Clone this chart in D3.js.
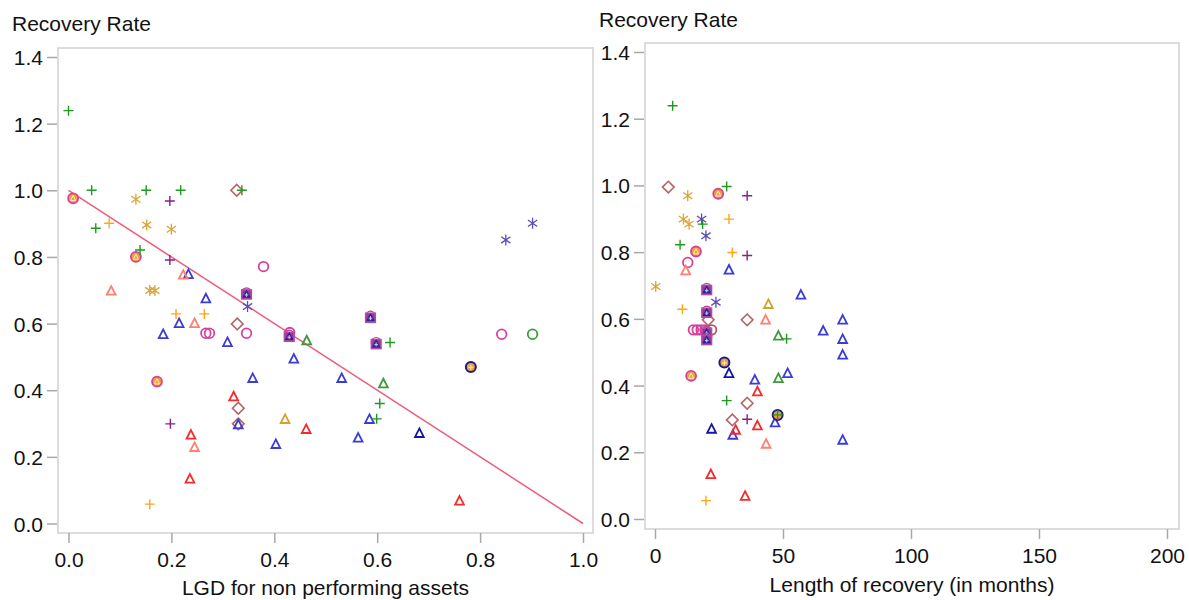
<!DOCTYPE html>
<html>
<head>
<meta charset="utf-8">
<script src="https://cdn.jsdelivr.net/npm/d3@7"></script>
<style>
  html, body { margin: 0; padding: 0; background: #ffffff; }
  svg { display: block; font-family: "Liberation Sans", Arial, sans-serif; }
</style>
</head>
<body>
<svg id="chart" width="1189" height="600"></svg>
<script>
// ---------------- DATA ----------------
const yTicks = [0, 0.2, 0.4, 0.6, 0.8, 1.0, 1.2, 1.4];
const lgdTicks = [0, 0.2, 0.4, 0.6, 0.8, 1.0];
const monthTicks = [0, 50, 100, 150, 200];
const yTitle = "Recovery Rate";
const leftXTitle = "LGD for non performing assets";
const rightXTitle = "Length of recovery (in months)";
const fitLine = [[0, 1.0], [1.0, 0.0]];   // fitted line: recovery = 1 - LGD

// [LGD, recovery rate]  and  [months, recovery rate]
const blueTriLGD = [[0.233,0.748],[0.267,0.675],[0.215,0.601],[0.184,0.568],[0.309,0.544],[0.438,0.494],[0.358,0.436],[0.531,0.436],[0.585,0.313],[0.563,0.257],[0.403,0.238],[0.330,0.297]];
const blueTriMonths = [[28.9,0.747],[39,0.417],[51.8,0.437],[57,0.672],[73.3,0.597],[65.7,0.564],[73.3,0.539],[73.3,0.492],[46.9,0.289],[30.4,0.252],[73.3,0.237]];
const darkBlueTriLGD = [[0.682,0.271]];
const darkBlueTriMonths = [[22.1,0.270],[28.9,0.437]];
const redTriLGD = [[0.321,0.381],[0.462,0.283],[0.238,0.266],[0.236,0.134],[0.760,0.068]];
const redTriMonths = [[40,0.382],[40,0.280],[31.5,0.267],[21.8,0.134],[35.2,0.069]];
const salmonTriLGD = [[0.083,0.698],[0.223,0.746],[0.245,0.601],[0.245,0.229]];
const salmonTriMonths = [[12,0.745],[43.2,0.597],[43.4,0.225]];
const greenTriLGD = [[0.463,0.549],[0.612,0.420]];
const greenTriMonths = [[48.2,0.549],[48.2,0.422]];
const goldTriLGD = [[0.421,0.313]];
const goldTriMonths = [[44.3,0.644]];
const greenPlusLGD = [[0.0,1.239],[0.045,1.0],[0.151,1.0],[0.218,1.0],[0.337,1.0],[0.053,0.886],[0.139,0.821],[0.625,0.543],[0.605,0.360],[0.599,0.314]];
const greenPlusMonths = [[6.9,1.239],[28,0.997],[18.6,0.884],[9.8,0.822],[51.4,0.540],[28,0.355],[47.9,0.312]];
const purplePlusLGD = [[0.197,0.968],[0.197,0.791],[0.198,0.299]];
const purplePlusMonths = [[36,0.969],[36,0.790],[36,0.299]];
const orangePlusLGD = [[0.079,0.901],[0.209,0.629],[0.264,0.629],[0.158,0.058]];
const orangePlusMonths = [[28.9,0.899],[30.2,0.799],[10.7,0.629],[19.9,0.055]];
const goldStarLGD = [[0.131,0.973],[0.152,0.896],[0.200,0.883],[0.158,0.699],[0.168,0.699]];
const goldStarMonths = [[12.8,0.969],[11.1,0.899],[13.3,0.884],[0.3,0.697]];
const slateStarLGD = [[0.348,0.651],[0.850,0.851],[0.902,0.901]];
const slateStarMonths = [[18.2,0.899],[19.9,0.849],[23.8,0.650]];
const magentaCircleLGD = [[0.379,0.771],[0.267,0.571],[0.274,0.571],[0.346,0.571],[0.430,0.573],[0.842,0.568]];
const magentaCircleMonths = [[12.8,0.769],[15,0.567],[16.5,0.567],[18,0.567],[19.5,0.567]];
const brownCircleLGD = [];
const brownCircleMonths = [[22.1,0.567]];
const greenCircleLGD = [[0.902,0.568]];
const greenCircleMonths = [];
const diamondLGD = [[0.327,1.0],[0.328,0.599],[0.330,0.346],[0.330,0.299]];
const diamondMonths = [[5.2,0.995],[20.8,0.597],[36,0.597],[36,0.347],[30.2,0.297]];
const comboPurpleLGD = [[0.346,0.688],[0.587,0.618],[0.598,0.539],[0.429,0.561]];
const comboPurpleMonths = [[20.2,0.687],[20.2,0.619],[20.2,0.559],[20.2,0.537]];
const comboOrangeLGD = [[0.009,0.976],[0.131,0.800],[0.172,0.426]];
const comboOrangeMonths = [[24.7,0.975],[16,0.802],[14.1,0.429]];
const comboBlueLGD = [[0.782,0.470]];
const comboBlueMonths = [[27.1,0.469],[47.9,0.312]];

// ---------------- STYLES ----------------
const seriesList = [
  { lgd: diamondLGD,       months: diamondMonths,       shape: "diamond",  color: "#b46464" },
  { lgd: magentaCircleLGD, months: magentaCircleMonths, shape: "circle",   color: "#d6419e" },
  { lgd: brownCircleLGD,   months: brownCircleMonths,   shape: "circle",   color: "#a85a6a" },
  { lgd: greenCircleLGD,   months: greenCircleMonths,   shape: "circle",   color: "#3c9a3c" },
  { lgd: blueTriLGD,       months: blueTriMonths,       shape: "triangle", color: "#3b3bd6" },
  { lgd: darkBlueTriLGD,   months: darkBlueTriMonths,   shape: "triangle", color: "#1414a8" },
  { lgd: redTriLGD,        months: redTriMonths,        shape: "triangle", color: "#f52a2a" },
  { lgd: salmonTriLGD,     months: salmonTriMonths,     shape: "triangle", color: "#ff7f70" },
  { lgd: greenTriLGD,      months: greenTriMonths,      shape: "triangle", color: "#3c9a3c" },
  { lgd: goldTriLGD,       months: goldTriMonths,       shape: "triangle", color: "#d2a32a" },
  { lgd: comboPurpleLGD,   months: comboPurpleMonths,   shape: "comboPurple", color: "#8b2a8b" },
  { lgd: comboOrangeLGD,   months: comboOrangeMonths,   shape: "comboOrange", color: "#d6419e" },
  { lgd: comboBlueLGD,     months: comboBlueMonths,     shape: "comboBlue",   color: "#1a1a8a" },
  { lgd: greenPlusLGD,     months: greenPlusMonths,     shape: "plus",     color: "#1f991f" },
  { lgd: purplePlusLGD,    months: purplePlusMonths,    shape: "plus",     color: "#8a1d8a" },
  { lgd: orangePlusLGD,    months: orangePlusMonths,    shape: "plus",     color: "#ffa41c" },
  { lgd: goldStarLGD,      months: goldStarMonths,      shape: "star",     color: "#d6a534" },
  { lgd: slateStarLGD,     months: slateStarMonths,     shape: "star",     color: "#5c4cb4" }
];

const FONT = "21px";
const svg = d3.select("#chart");
const fmt = d3.format(".1f");

function drawMarker(g, shape, color, cx, cy) {
  const m = g.append("g").attr("transform", `translate(${cx},${cy})`);
  if (shape === "triangle") {
    m.append("path").attr("d", "M0,-4.8L4.4,3.8L-4.4,3.8Z")
      .attr("fill", "none").attr("stroke", color).attr("stroke-width", 1.8).attr("stroke-linejoin", "miter");
  } else if (shape === "plus") {
    m.append("path").attr("d", "M-5,0H5M0,-5V5")
      .attr("stroke", color).attr("stroke-width", 1.4).attr("fill", "none");
  } else if (shape === "star") {
    m.append("path").attr("d", "M0,-5.5V5.5M-4.6,-3.2L4.6,3.2M-4.6,3.2L4.6,-3.2")
      .attr("stroke", color).attr("stroke-width", 1.3).attr("fill", "none");
  } else if (shape === "circle") {
    m.append("circle").attr("r", 4.8)
      .attr("fill", "none").attr("stroke", color).attr("stroke-width", 1.8);
  } else if (shape === "diamond") {
    m.append("path").attr("d", "M0,-5.8L5.8,0L0,5.8L-5.8,0Z")
      .attr("fill", "none").attr("stroke", color).attr("stroke-width", 1.6);
  } else if (shape === "comboPurple") {
    m.append("rect").attr("x", -4.8).attr("y", -4.3).attr("width", 9.6).attr("height", 9)
      .attr("fill", "#8c3c96").attr("stroke", "#b04aa8").attr("stroke-width", 1.6);
    m.append("path").attr("d", "M-4.8,-1.5A4.8,4.8 0 0 1 4.8,-1.5")
      .attr("fill", "none").attr("stroke", "#c8449e").attr("stroke-width", 1.4);
    m.append("path").attr("d", "M0,-3.2L3.2,2.8L-3.2,2.8Z")
      .attr("fill", "none").attr("stroke", "#24249a").attr("stroke-width", 1.4);
    m.append("path").attr("d", "M-1.8,0.6H1.8M0,-1.4V2.6").attr("stroke", "#d8c8e8").attr("stroke-width", 0.9);
  } else if (shape === "comboOrange") {
    m.append("circle").attr("r", 5).attr("fill", "#f2a036").attr("stroke", "#d6419e").attr("stroke-width", 1.8);
    m.append("path").attr("d", "M0,-2.8L2.6,2.4L-2.6,2.4Z")
      .attr("fill", "none").attr("stroke", "#fff0c8").attr("stroke-width", 1);
  } else if (shape === "comboBlue") {
    m.append("circle").attr("r", 5).attr("fill", "#f2a036").attr("stroke", "#1a1a8a").attr("stroke-width", 2);
    m.append("path").attr("d", "M-2.4,0.5H2.4M0,-2V2.8").attr("stroke", "#fff0c8").attr("stroke-width", 1);
  }
}

function drawPanel(opt) {
  const g = svg.append("g");
  const x = d3.scaleLinear().domain(opt.xDomain).range(opt.xRange);
  const y = d3.scaleLinear().domain([0, 1.4]).range(opt.yRange);

  // frame
  g.append("rect")
    .attr("x", opt.frame[0]).attr("y", opt.frame[1])
    .attr("width", opt.frame[2] - opt.frame[0]).attr("height", opt.frame[3] - opt.frame[1])
    .attr("fill", "none").attr("stroke", "#d4d4d4").attr("stroke-width", 1.6);

  // y axis
  const ya = g.append("g").attr("transform", `translate(${opt.frame[0] - 1},0)`)
    .call(d3.axisLeft(y).tickValues(yTicks).tickFormat(fmt).tickSize(10).tickPadding(4));
  ya.select(".domain").remove();
  ya.selectAll(".tick line").attr("stroke", "#a8a8a8").attr("stroke-width", 1.5);
  ya.selectAll(".tick text").attr("fill", "#111111").style("font-size", FONT)
    .style("font-family", "'Liberation Sans', Arial, sans-serif").attr("dy", "0.36em");

  // x axis
  const xa = g.append("g").attr("transform", `translate(0,${opt.frame[3]})`)
    .call(d3.axisBottom(x).tickValues(opt.xTicks).tickFormat(opt.xFormat).tickSize(10).tickPadding(9));
  xa.select(".domain").remove();
  xa.selectAll(".tick line").attr("stroke", "#a8a8a8").attr("stroke-width", 1.5);
  xa.selectAll(".tick text").attr("fill", "#111111").style("font-size", FONT)
    .style("font-family", "'Liberation Sans', Arial, sans-serif");

  // titles
  g.append("text").attr("x", opt.titleX).attr("y", opt.titleY)
    .attr("fill", "#111111").style("font-size", FONT).text(yTitle);
  g.append("text").attr("x", (opt.frame[0] + opt.frame[2]) / 2).attr("y", opt.xTitleY)
    .attr("text-anchor", "middle").attr("fill", "#111111").style("font-size", FONT).text(opt.xTitle);

  // fitted line
  if (opt.line) {
    g.append("path")
      .attr("d", d3.line().x(d => x(d[0])).y(d => y(d[1]))(opt.line))
      .attr("fill", "none").attr("stroke", "#ee5a7a").attr("stroke-width", 1.5);
  }

  // markers
  const mg = g.append("g");
  seriesList.forEach(s => {
    s[opt.key].forEach(d => drawMarker(mg, s.shape, s.color, x(d[0]), y(d[1])));
  });
}

drawPanel({
  key: "lgd",
  xDomain: [0, 1], xRange: [68.5, 583],
  yRange: [523.5, 57],
  frame: [58, 48, 593, 533],
  xTicks: lgdTicks, xFormat: fmt,
  titleX: 12, titleY: 31,
  xTitle: leftXTitle, xTitleY: 595,
  line: fitLine
});

drawPanel({
  key: "months",
  xDomain: [0, 200], xRange: [655, 1167],
  yRange: [519, 52],
  frame: [645, 43, 1179, 529],
  xTicks: monthTicks, xFormat: d3.format("d"),
  titleX: 599, titleY: 27,
  xTitle: rightXTitle, xTitleY: 592,
  line: null
});
</script>
</body>
</html>
